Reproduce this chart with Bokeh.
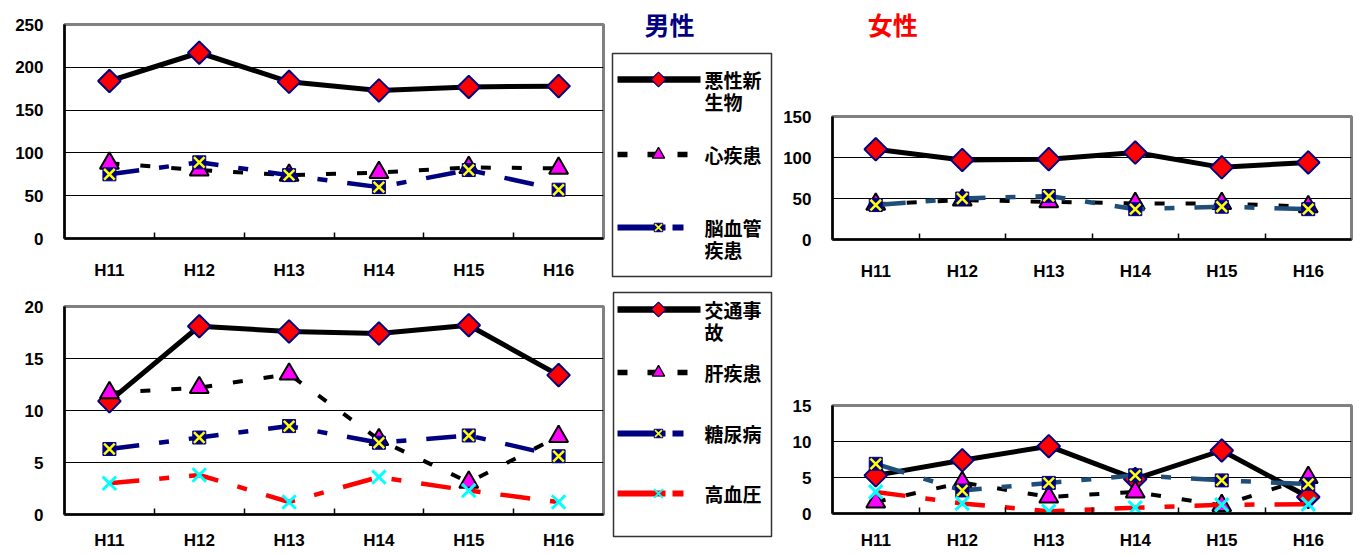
import numpy as np
from bokeh.plotting import figure
from bokeh.layouts import row, column
from bokeh.models import Range1d, FixedTicker
from bokeh.core.properties import value
from bokeh.embed import file_html
from bokeh.resources import INLINE

# ---------------- data ----------------
years = ["H11", "H12", "H13", "H14", "H15", "H16"]

male_cancer = [184, 217, 183, 173, 177, 178]
male_heart = [88, 80, 74, 77, 83, 82]
male_stroke = [75, 89, 74, 60, 80, 57]

female_cancer = [110, 97, 98, 106, 88, 94]
female_heart = [43, 48, 46, 44, 44, 40]
female_stroke = [42, 50, 53, 37, 40, 37]

male_traffic = [10.9, 18.1, 17.6, 17.4, 18.2, 13.4]
male_liver = [11.7, 12.2, 13.5, 7.2, 3.1, 7.5]
male_diabetes = [6.3, 7.4, 8.5, 6.9, 7.6, 5.6]
male_hypertension = [3.0, 3.8, 1.2, 3.6, 2.3, 1.2]

female_traffic = [5.3, 7.4, 9.35, 4.8, 8.75, 2.3]
female_liver = [1.6, 4.3, 2.3, 3.0, 1.1, 5.0]
female_diabetes = [6.9, 3.2, 4.25, 5.3, 4.6, 4.1]
female_hypertension = [3.0, 1.4, 0.3, 0.8, 1.2, 1.3]

male_big_ticks = [0, 50, 100, 150, 200, 250]
female_big_ticks = [0, 50, 100, 150]
male_small_ticks = [0, 5, 10, 15, 20]
female_small_ticks = [0, 5, 10, 15]

legend_big_labels = [["悪性新", "生物"], ["心疾患"], ["脳血管", "疾患"]]
legend_small_labels = [["交通事", "故"], ["肝疾患"], ["糖尿病"], ["高血圧"]]
male_title = "男性"
female_title = "女性"

# ---------------- styles ----------------
NAVY = "#000080"
STEEL = "#1F4E79"
LONG_SHORT = "30 20 10 20"
DOTTED = "10 21"
TICK_FONT = "Liberation Sans"
CJK_FONT = "Noto Sans CJK JP"


def draw_marker(p, kind, xs, ys, s=1.0):
    if kind == "diamond":
        p.scatter(xs, ys, marker="square", size=16 * s, angle=np.pi / 4,
                  fill_color="#FF0000", line_color=NAVY, line_width=2 * s)
    elif kind == "triangle":
        p.scatter(xs, ys, marker="triangle", size=19 * s,
                  fill_color="#FF00FF", line_color="black", line_width=2 * s)
    elif kind == "xsquare":
        p.scatter(xs, ys, marker="square", size=13 * s,
                  fill_color=NAVY, line_color=NAVY, line_width=1)
        p.scatter(xs, ys, marker="x", size=15 * s,
                  line_color="#FFFF00", line_width=2.5 * s)
    elif kind == "cyanx":
        p.scatter(xs, ys, marker="x", size=19 * s,
                  line_color="#00FFFF", line_width=3 * s)


def line_style(kind, color):
    if kind == "diamond":
        return dict(line_color="black", line_width=5, line_dash="solid")
    if kind == "triangle":
        return dict(line_color="black", line_width=4, line_dash=DOTTED)
    if kind == "xsquare":
        return dict(line_color=color, line_width=4.5, line_dash=LONG_SHORT)
    return dict(line_color="#FF0000", line_width=4.5, line_dash=LONG_SHORT)


def chart(width, height, left, right, top, bottom, ymax, ticks, series, x_standoff):
    n = len(years)
    p = figure(width=width, height=height,
               x_range=Range1d(0, n), y_range=Range1d(0, ymax),
               toolbar_location=None, output_backend="svg",
               min_border_left=left, min_border_right=right,
               min_border_top=top, min_border_bottom=bottom)
    xs = [float(i) + 0.5 for i in range(n)]
    for kind, color, ys in series:
        p.line(xs, ys, line_join="round", **line_style(kind, color))
        draw_marker(p, kind, xs, ys)

    p.xaxis.ticker = FixedTicker(ticks=xs, minor_ticks=[float(i) for i in range(1, n)])
    p.xaxis.major_label_overrides = {x: y for x, y in zip(xs, years)}
    p.xaxis.major_tick_in = 0
    p.xaxis.major_tick_out = 0
    p.xaxis.minor_tick_in = 6
    p.xaxis.minor_tick_out = 0
    p.xaxis.minor_tick_line_color = "black"
    p.xaxis.minor_tick_line_width = 1.5
    p.xaxis.major_label_standoff = x_standoff

    p.yaxis.ticker = FixedTicker(ticks=ticks, minor_ticks=[])
    p.yaxis.major_tick_in = 0
    p.yaxis.major_tick_out = 0
    p.yaxis.minor_tick_in = 0
    p.yaxis.minor_tick_out = 0
    p.yaxis.major_label_standoff = 21

    p.axis.axis_line_color = "black"
    p.axis.axis_line_width = 2.5
    p.axis.major_label_text_font = TICK_FONT
    p.axis.major_label_text_font_style = "bold"
    p.axis.major_label_text_font_size = "17px"
    p.axis.major_label_text_color = "black"

    p.xgrid.visible = False
    p.ygrid.grid_line_color = "black"
    p.ygrid.grid_line_width = 1
    p.outline_line_color = "#808080"
    p.outline_line_width = 3
    p.background_fill_color = "white"
    p.border_fill_color = "white"
    return p


def pixel_fig(width, height):
    p = figure(width=width, height=height,
               x_range=Range1d(0, width), y_range=Range1d(height, 0),
               toolbar_location=None, output_backend="svg",
               min_border=0, min_border_left=0, min_border_right=0,
               min_border_top=0, min_border_bottom=0)
    p.axis.visible = False
    p.grid.visible = False
    p.outline_line_color = None
    p.background_fill_color = "white"
    p.border_fill_color = "white"
    return p


# ---------------- charts ----------------
tl = chart(610, 284, 64, 6, 24, 46, 250, male_big_ticks, [
    ("diamond", "black", male_cancer),
    ("triangle", "black", male_heart),
    ("xsquare", NAVY, male_stroke),
], 22)

bl = chart(610, 268, 60, 7, 22, 37, 20, male_small_ticks, [
    ("diamond", "black", male_traffic),
    ("triangle", "black", male_liver),
    ("xsquare", NAVY, male_diabetes),
    ("cyanx", "red", male_hypertension),
], 16)

tr = chart(591, 234, 57, 11, 66, 45, 150, female_big_ticks, [
    ("diamond", "black", female_cancer),
    ("triangle", "black", female_heart),
    ("xsquare", STEEL, female_stroke),
], 22)

br = chart(591, 268, 48, 15, 121, 39, 15, female_small_ticks, [
    ("diamond", "black", female_traffic),
    ("triangle", "black", female_liver),
    ("xsquare", STEEL, female_diabetes),
    ("cyanx", "red", female_hypertension),
], 17)

# ---------------- legend column ----------------
leg = pixel_fig(165, 552)
leg.text(x=[34], y=[23], text=[male_title], text_font=value(CJK_FONT),
         text_font_size="25px", text_font_style="bold", text_color=NAVY,
         text_baseline="middle", text_align="left")

leg.quad(left=[2, 3], right=[161, 161], top=[53, 292], bottom=[276, 536],
         fill_color=None, line_color="#333333", line_width=1.5)

big_kinds = ["diamond", "triangle", "xsquare"]
big_rows = [79, 154, 227]
small_kinds = ["diamond", "triangle", "xsquare", "cyanx"]
small_rows = [309, 372, 433, 493]


def legend_entries(kinds, rows_y, labels):
    for kind, yy, lab in zip(kinds, rows_y, labels):
        st = line_style(kind, NAVY)
        if kind == "triangle":
            st["line_dash"] = "10 20"
        elif kind in ("xsquare", "cyanx"):
            st["line_dash"] = "48 7 11 40"
        st["line_width"] = st["line_width"] + 1.5
        leg.line([7, 90], [yy, yy], **st)
        draw_marker(leg, kind, [48], [yy], s=0.65)
        for k, txt in enumerate(lab):
            leg.text(x=[94], y=[yy + 22 * k], text=[txt], text_font=value(CJK_FONT),
                     text_font_size="19px", text_font_style="bold", text_color="black",
                     text_baseline="middle", text_align="left")


legend_entries(big_kinds, big_rows, legend_big_labels)
legend_entries(small_kinds, small_rows, legend_small_labels)

# ---------------- female title ----------------
ttl = pixel_fig(591, 50)
ttl.text(x=[40], y=[23], text=[female_title], text_font=value(CJK_FONT),
         text_font_size="25px", text_font_style="bold", text_color="#FF0000",
         text_baseline="middle", text_align="left")

layout = row(column(tl, bl), leg, column(ttl, tr, br))

open("out.html", "w").write(file_html(layout, INLINE))
